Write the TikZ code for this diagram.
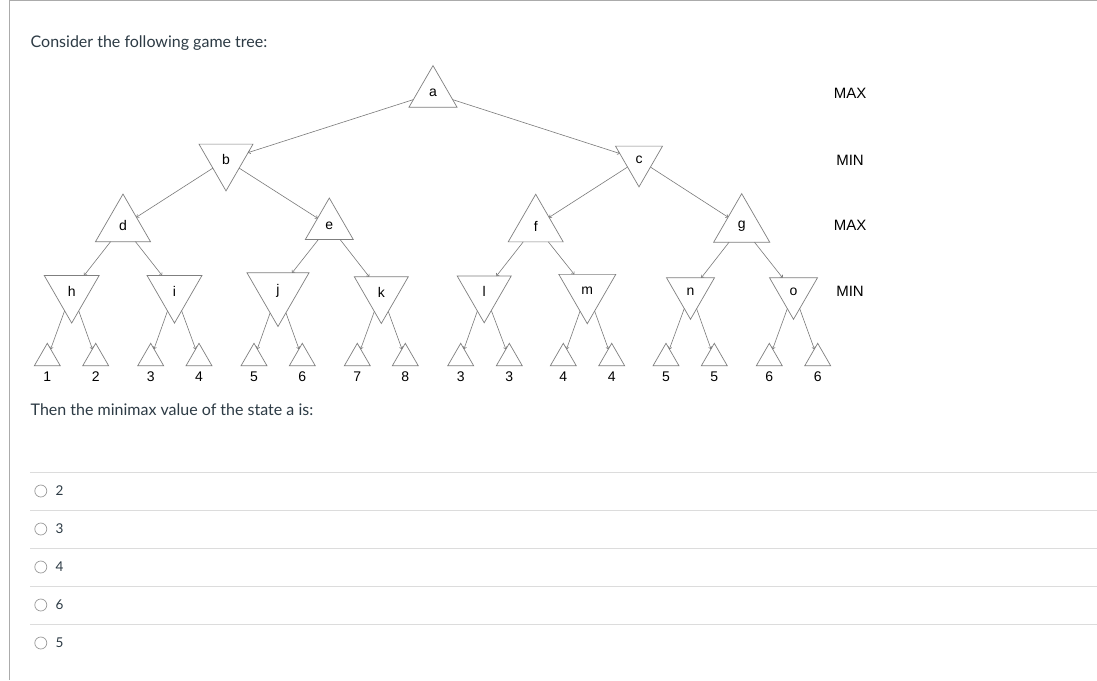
\documentclass[tikz,border=0pt]{standalone}
\usepackage{fontspec}
\setmainfont{Lato}
\newfontfamily\arialf{Liberation Sans}
\usetikzlibrary{shapes.geometric,arrows.meta}
\definecolor{canvastext}{HTML}{2D3B45}
\definecolor{tricol}{HTML}{7F7F7F}
\definecolor{edgecol}{HTML}{7A7A7A}
\definecolor{framecol}{HTML}{ABABAB}
\definecolor{sepcol}{HTML}{DCDCDC}
\definecolor{radiocol}{HTML}{9A9A9A}
\begin{document}
\begin{tikzpicture}[x=1pt,y=-1pt,
  tri/.style={regular polygon, regular polygon sides=3, draw=tricol, line width=0.7pt,
    inner sep=0pt, outer sep=0pt, font=\arialf\fontsize{14}{14}\selectfont},
  upn/.style={tri, minimum size=#1},
  dnn/.style={tri, regular polygon rotate=180, minimum size=#1},
  leafn/.style={tri, minimum size=30pt},
  lbl/.style={font=\arialf\fontsize{14}{14}\selectfont, inner sep=0pt},
  lvl/.style={font=\arialf\fontsize{15}{15}\selectfont, inner sep=0pt},
  conn/.style={draw=edgecol, line width=0.6pt, -{To[length=2.5pt,width=4pt]}},
  sepline/.style={draw=sepcol, line width=0.8pt},
  radio/.style={circle, draw=radiocol, line width=0.7pt, minimum size=12pt, inner sep=0pt},
  qtext/.style={font=\fontsize{16}{16}\selectfont, text=canvastext, inner sep=0pt, anchor=base west},
  otext/.style={font=\fontsize{13.5}{13.5}\selectfont, text=canvastext, inner sep=0pt, anchor=base west}
]
\useasboundingbox (0,0) rectangle (1097,680);
\fill[white] (0,0) rectangle (1097,680);
% frame
\draw[framecol, line width=1.2pt] (9.5,680) -- (9.5,0.6) -- (1097,0.6);

% question
\node[qtext] (q1) at (30.5,47.5) {Consider the following game tree:};
\node[qtext] (q2) at (30.5,415.5) {Then the minimax value of the state a is:};

% level labels
\node[lvl] (L1) at (850,93.3) {MAX};
\node[lvl] (L2) at (850,160) {MIN};
\node[lvl] (L3) at (850,225.7) {MAX};
\node[lvl] (L4) at (850,291.7) {MIN};

% internal nodes
\node[upn=55.4pt] (a) at (433,93.3) {a};
\node[dnn=62.4pt] (b) at (226,159.7) {b};
\node[dnn=54.3pt] (c) at (639,159.7) {c};
\node[upn=63.5pt] (d) at (123,225.8) {d};
\node[upn=55.4pt] (e) at (329.3,225.7) {e};
\node[upn=63.5pt] (f) at (535.7,226) {f};
\node[upn=64.7pt] (g) at (741.7,226) {g};
\node[dnn=63.5pt] (h) at (71.7,291.3) {h};
\node[dnn=63.5pt] (i) at (174.5,291.3) {i};
\node[dnn=71.6pt] (j) at (278,290.7) {j};
\node[dnn=62.4pt] (k) at (381.3,292.3) {k};
\node[dnn=62.4pt] (l) at (484.2,291.6) {l};
\node[dnn=65.8pt] (m) at (587.3,290.8) {m};
\node[dnn=55.4pt] (n) at (690.5,291.6) {n};
\node[dnn=55.4pt] (o) at (793.5,291.6) {o};

% leaves
\foreach \nm/\x/\v in {1/47.3/1, 2/95.7/2, 3/150.7/3, 4/199/4, 5/254/5, 6/302.3/6, 7/357.3/7, 8/405.3/8,
  9/460.7/3, 10/509.3/3, 11/563.3/4, 12/611.7/4, 13/666/5, 14/714.3/5, 15/769.3/6, 16/817.7/6}{
  \node[leafn] (z\nm) at (\x,358.3) {};
  \node[lbl] (v\nm) at (\x,377) {\v};
}

% connectors
\draw[conn] (a) -- (b);
\draw[conn] (a) -- (c);
\draw[conn] (b) -- (d);
\draw[conn] (b) -- (e);
\draw[conn] (c) -- (f);
\draw[conn] (c) -- (g);
\draw[conn] (d) -- (h);
\draw[conn] (d) -- (i);
\draw[conn] (e) -- (j);
\draw[conn] (e) -- (k);
\draw[conn] (f) -- (l);
\draw[conn] (f) -- (m);
\draw[conn] (g) -- (n);
\draw[conn] (g) -- (o);
\draw[conn] (h) -- (z1);
\draw[conn] (h) -- (z2);
\draw[conn] (i) -- (z3);
\draw[conn] (i) -- (z4);
\draw[conn] (j) -- (z5);
\draw[conn] (j) -- (z6);
\draw[conn] (k) -- (z7);
\draw[conn] (k) -- (z8);
\draw[conn] (l) -- (z9);
\draw[conn] (l) -- (z10);
\draw[conn] (m) -- (z11);
\draw[conn] (m) -- (z12);
\draw[conn] (n) -- (z13);
\draw[conn] (n) -- (z14);
\draw[conn] (o) -- (z15);
\draw[conn] (o) -- (z16);

% answer options
\foreach \k/\y/\t in {1/472.3/2, 2/510.3/3, 3/548.3/4, 4/586.3/6, 5/624.3/5}{
  \draw[sepline] (30,\y) -- (1097,\y);
  \node[radio] (r\k) at (40.8,\y+18.7) {};
  \node[otext] (o\k) at (55.5,\y+23.4) {\t};
}
\end{tikzpicture}
\end{document}
